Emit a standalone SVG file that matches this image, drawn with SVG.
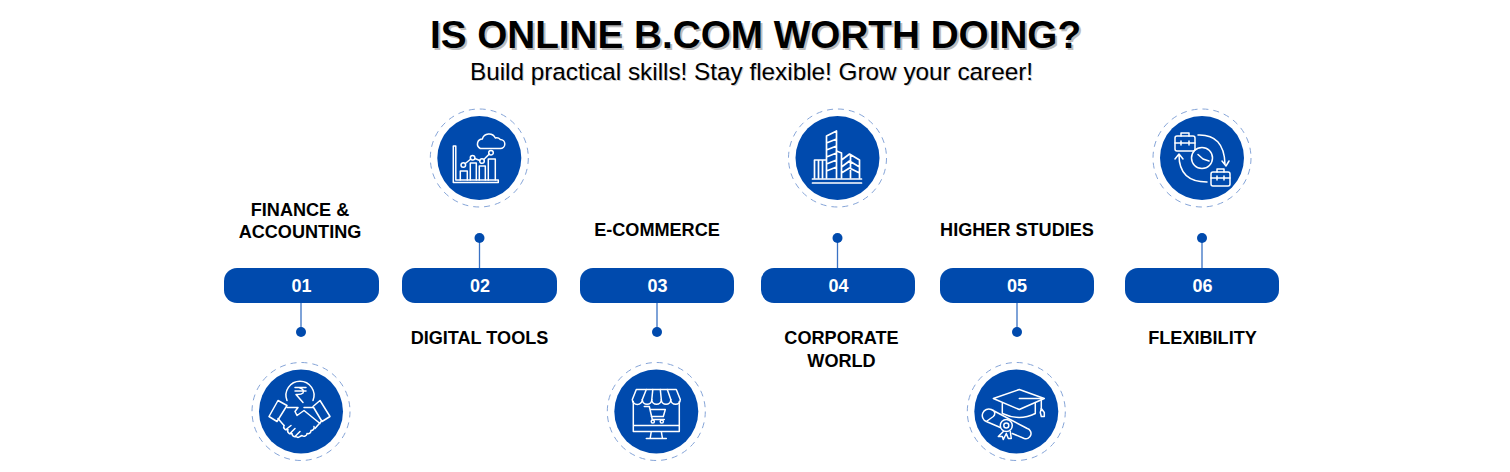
<svg xmlns="http://www.w3.org/2000/svg" width="1510" height="472" viewBox="0 0 1510 472">
<style>
text{font-family:"Liberation Sans",Arial,sans-serif;text-anchor:middle}
.t{font-size:38.700px;font-weight:700;fill:#000;text-shadow:2px 2px 0 #bdbdbd}
.s{font-size:24.300px;fill:#000;text-shadow:1px 1px 0 #cfcfcf}
.l{font-size:18.100px;font-weight:700;fill:#000}
.n{font-size:18px;font-weight:700;fill:#fff}
.p{fill:#004aad}
.c{fill:#004aad}
.r{fill:none;stroke:#86a5d8;stroke-width:1;stroke-dasharray:6 5}
.i{fill:none;stroke:#fff;stroke-width:1.500;stroke-linejoin:round;stroke-linecap:round}
.k{stroke:#3a72c4;stroke-width:1.300;fill:none}
.d{fill:#004aad}
</style>
<defs>
<g id="badge"><circle class="r" r="49"/><circle class="c" r="42"/></g>
</defs>
<g id="title"><text class="t" x="755.500" y="48">IS ONLINE B.COM WORTH DOING?</text><text class="s" x="751.500" y="80">Build practical skills! Stay flexible! Grow your career!</text></g>
<g id="connectors">
<path class="k" d="M301 303V332M479.500 238V268M657 303V332M837.500 238V268M1017 303V332M1202 238V268"/>
<circle class="d" cx="301" cy="332" r="5"/><circle class="d" cx="479.500" cy="238" r="5"/><circle class="d" cx="657" cy="332" r="5"/><circle class="d" cx="837.500" cy="238" r="5"/><circle class="d" cx="1017" cy="332" r="5"/><circle class="d" cx="1202" cy="238" r="5"/>
</g>
<g id="node-01"><rect class="p" x="224" y="268" width="155" height="35" rx="13"/><text class="n" x="301.500" y="292">01</text><text class="l" x="300" y="216">FINANCE &amp;</text><text class="l" x="300" y="238">ACCOUNTING</text>
<g transform="translate(301,411.500)"><use href="#badge"/><g class="i">
<path d="M-14-11A14 14 0 1 1 12-11"/><path d="M-6-24H5M-6-20.500H5M-2-24Q4-22 2-18.500Q0-16.500-5-17L2-9"/>
<path d="M-23-11L-14-6L-24 10L-32 5ZM19-11L29 5L21 10L12-5Z"/><path d="M-14-4H-3L-6 0L-4 4L3-1L19 12M12-4L3-4M-23 7L-17 14M21 9L14 17"/><path d="M-17 14a3 3 0 0 0 4 4a3 3 0 0 0 4 4a3 3 0 0 0 4 3a3 3 0 0 0 4 0l2-1a3 3 0 0 0 5-2a3 3 0 0 0 4-3a3 3 0 0 0 3-4M-15 18l5-4M-11 22l5-5M-6 25l5-5"/></g></g></g>
<g id="node-02"><rect class="p" x="402" y="268" width="155" height="35" rx="13"/><text class="n" x="480" y="292">02</text><text class="l" x="479.500" y="344">DIGITAL TOOLS</text>
<g transform="translate(479.300,158)"><use href="#badge"/><g class="i">
<path d="M-26-12h2.500V22H19v2.500H-26Z"/><path d="M-19 22V13H-12V22M-9 22V5H-3V22M0 22V8H6V22M9 22V1H16V22"/>
<circle cx="-16" cy="7" r="2.300"/><circle cx="-6.700" cy="-0.300" r="2.300"/><circle cx="2.700" cy="3" r="2.300"/><circle cx="11.700" cy="-5.300" r="2.300"/><path d="M-14 5.500L-8.500 1M-4.500 0.500L0.500 2.500M4.500 1.500L10 -4"/>
<path d="M1-9.500H21A4.500 4.500 0 0 0 21-18.500A5 5 0 0 0 16-20A7 7 0 0 0 3-19A5 5 0 0 0 1-9.500Z"/></g></g></g>
<g id="node-03"><rect class="p" x="580" y="268" width="154" height="35" rx="13"/><text class="n" x="657.500" y="292">03</text><text class="l" x="657" y="236">E-COMMERCE</text>
<g transform="translate(656.300,411.500)"><use href="#badge"/><g class="i">
<path d="M-20-22H20L24-12A4.700 4.700 0 0 1 14.500-12A4.700 4.700 0 0 1 5-12A4.700 4.700 0 0 1-4.500-12A4.700 4.700 0 0 1-14-12A4.700 4.700 0 0 1-24-12Z"/><path d="M-14-12L-10-22M-4.500-12L-3.500-22M5-12L4-22M14.500-12L11-22"/>
<path d="M-23-10V20H23V-10M-23 14H23M-5 20L-6 26M5 20L6 26M-10 27H10"/><path d="M-12-5H-7L-4 8H8M-6-2H9L7 5H-5"/><circle cx="-3.500" cy="10" r="1.600"/><circle cx="5.500" cy="10" r="1.600"/></g></g></g>
<g id="node-04"><rect class="p" x="761" y="268" width="154" height="35" rx="13"/><text class="n" x="838.500" y="292">04</text><text class="l" x="841.500" y="344">CORPORATE</text><text class="l" x="841.500" y="367">WORLD</text>
<g transform="translate(837.500,158)"><use href="#badge"/><g class="i" style="stroke-width:1.700">
<path d="M-23 20V2H-11V20M-19 2V20M-15 2V20M-11 20V-22L-1-27V20M-11-15L-1-19M-11-8L-1-12M-11-1L-1-5M-11 6L-1 2M-11 13L-1 9"/><path d="M-1-7L4-5V20M4 2L12-4L22 2V20M4 9L12 3L22 9M4 15L12 10L22 15M13-3V20"/><path d="M-25 21H24M-25 25H24"/></g></g></g>
<g id="node-05"><rect class="p" x="940" y="268" width="154" height="35" rx="13"/><text class="n" x="1017" y="292">05</text><text class="l" x="1017" y="236">HIGHER STUDIES</text>
<g transform="translate(1016.300,411.500)"><use href="#badge"/><g class="i">
<path d="M-23-13L3-22L28-13L3-2Z"/><path d="M-14-8V2Q3 10 19 2V-8M3-13H25V-3"/><path d="M25-3l3 4l0 4h-3l-1-4Z"/>
<path d="M-25-2L11 17A5 5 0 0 1 8 27L-4 22M-16 16L-30 10A5 5 0 0 1-25-2A4 4 0 0 1-23 5L-30 10"/><circle cx="-10" cy="14" r="6"/><circle cx="-10" cy="14" r="2.500"/><path d="M-13 20L-18 25L-14 25L-13 28L-10 22L-8 27L-5 27L-6 20"/></g></g></g>
<g id="node-06"><rect class="p" x="1125" y="268" width="154" height="35" rx="13"/><text class="n" x="1202.500" y="292">06</text><text class="l" x="1202.500" y="344">FLEXIBILITY</text>
<g transform="translate(1202,158)"><use href="#badge"/><g class="i">
<rect x="-27" y="-22" width="20" height="15" rx="2"/><path d="M-21-22V-25H-13V-22M-27-15H-7M-21-17V-13M-13-17V-13"/>
<rect x="9" y="14" width="19" height="14" rx="2"/><path d="M15 14V11H22V14M9 20H28M15 18V22M22 18V22"/>
<circle r="10.500"/><path d="M-4-3.500L1 1L7 3"/>
<path d="M-4-23Q22-24 23 6M20 3L24 8L27 3M5 24Q-23 24-23-3M-27 1L-23-4L-19 1"/></g></g></g>
</svg>
